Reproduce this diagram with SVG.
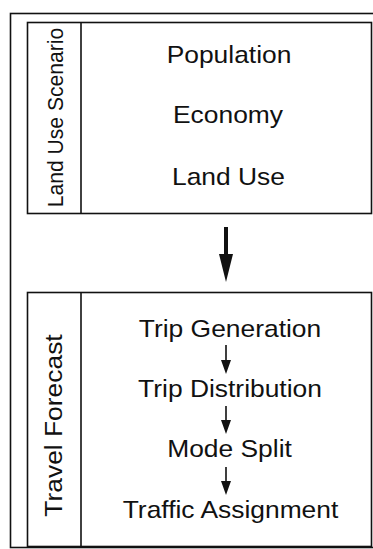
<svg xmlns="http://www.w3.org/2000/svg" width="373" height="549" viewBox="0 0 373 549">
  <style>
    .frame { fill: #fff; stroke: #111; stroke-width: 1.6; }
    .rule { stroke: #111; stroke-width: 1.6; }
    .lbl { font-family: "Liberation Sans", Arial, sans-serif; fill: #111; text-anchor: middle; }
    .item { font-size: 24px; }
    .arrow { fill: #111; stroke: none; }
  </style>
  <rect x="0" y="0" width="373" height="549" fill="#fff"/>
  <!-- outer frame -->
  <rect class="frame" x="10.5" y="13.5" width="364" height="534"/>

  <g id="land-use-scenario">
    <rect class="frame" x="27.5" y="22.5" width="344" height="191"/>
    <line class="rule" x1="81" y1="22.5" x2="81" y2="213.5"/>
    <text class="lbl" font-size="22" transform="translate(63,117.5) rotate(-90) scale(0.96,1)">Land Use Scenario</text>
    <text class="lbl item" transform="translate(229,63) scale(1.1,1)">Population</text>
    <text class="lbl item" transform="translate(228,123) scale(1.1,1)">Economy</text>
    <text class="lbl item" transform="translate(228.5,185) scale(1.1,1)">Land Use</text>
  </g>

  <g id="travel-forecast">
    <rect class="frame" x="27.5" y="292.5" width="344" height="254"/>
    <line class="rule" x1="81" y1="292.5" x2="81" y2="546.5"/>
    <text class="lbl" font-size="24" transform="translate(62,425.5) rotate(-90) scale(1.1,1)">Travel Forecast</text>
    <text class="lbl item" transform="translate(230,337) scale(1.1,1)">Trip Generation</text>
    <text class="lbl item" transform="translate(230,397) scale(1.1,1)">Trip Distribution</text>
    <text class="lbl item" transform="translate(229.5,457) scale(1.1,1)">Mode Split</text>
    <text class="lbl item" transform="translate(230.5,518) scale(1.1,1)">Traffic Assignment</text>
  </g>

  <g id="connectors">
    <!-- main flow arrow between the two blocks -->
    <polygon class="arrow" points="224,227 228,227 228,254 233,254 226,282 219,254 224,254"/>
    <!-- step arrows inside the forecast block -->
    <polygon class="arrow" points="225.2,345 226.8,345 226.8,360 231,360 226,374 221,360 225.2,360"/>
    <polygon class="arrow" points="225.2,406 226.8,406 226.8,420 231,420 226,434 221,420 225.2,420"/>
    <polygon class="arrow" points="225.2,467 226.8,467 226.8,481 231,481 226,495 221,481 225.2,481"/>
  </g>
</svg>
